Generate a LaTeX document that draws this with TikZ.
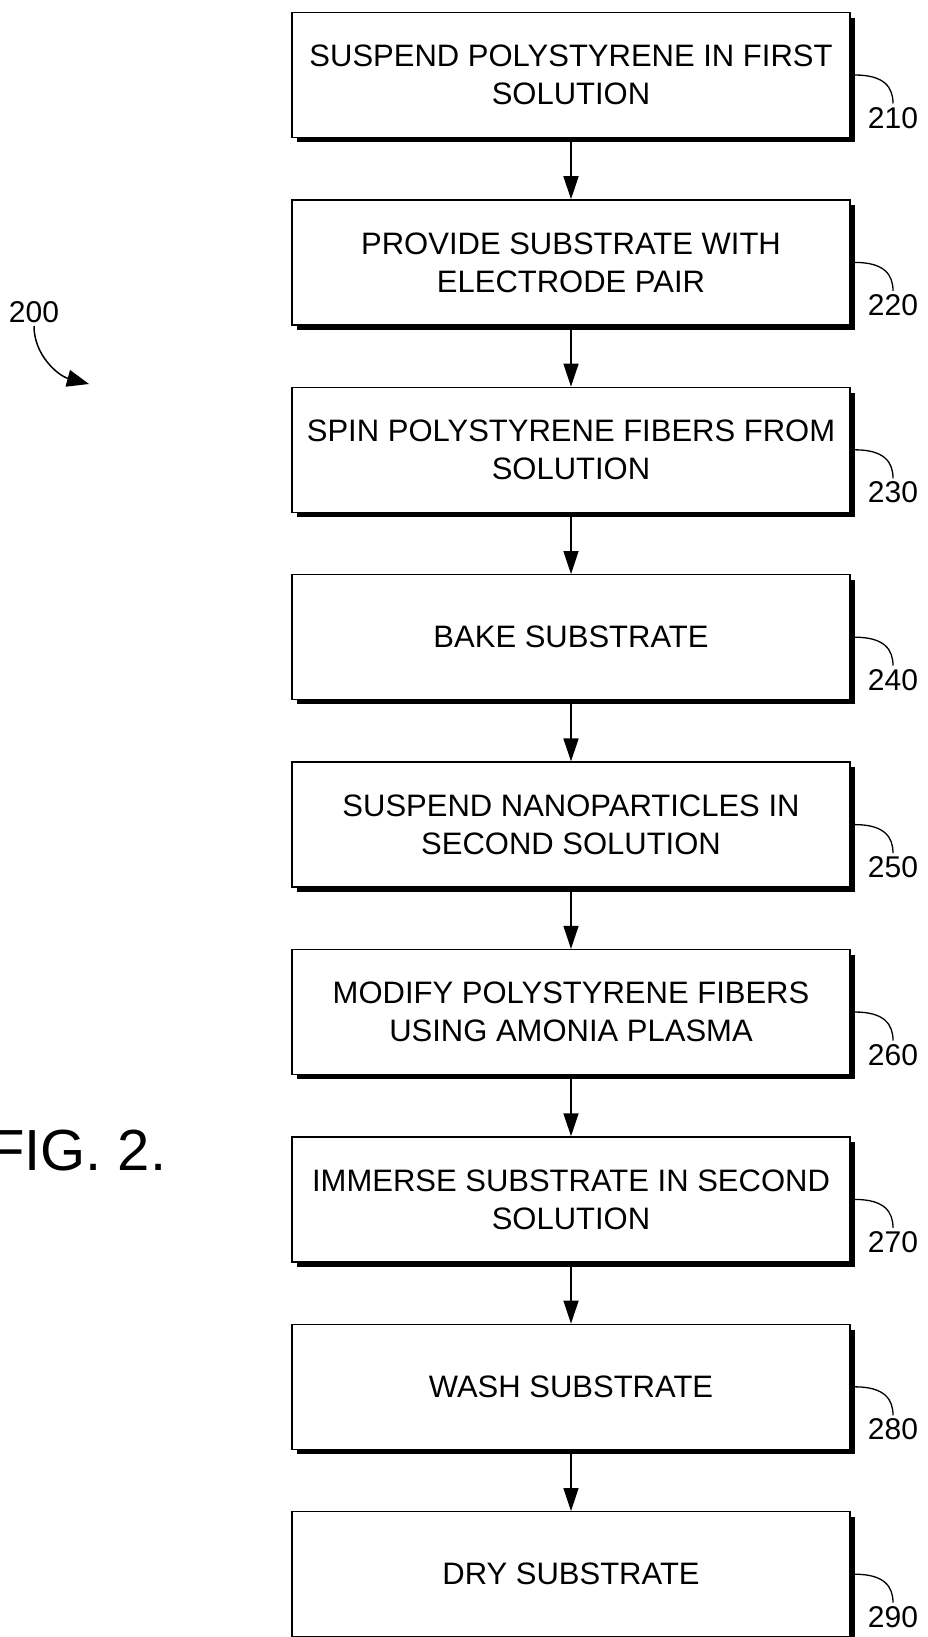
\documentclass[tikz,border=0pt]{standalone}
\usepackage{fontspec}
\setmainfont{Liberation Sans}
\usetikzlibrary{arrows.meta}
\tikzset{
  stepbox/.style = {draw, line width=1.3pt, minimum width=558pt, minimum height=125pt,
                    inner sep=0pt, align=center, font=\fontsize{31}{38}\selectfont},
  reflabel/.style = {inner sep=3.5pt, font=\fontsize{30}{38}\selectfont},
  flowarrow/.style = {line width=1.5pt, -{Triangle[length=23pt,width=15pt]}},
  leader/.style = {line width=1.3pt},
  boxshadow/.style = {line width=4pt}
}
\begin{document}
\begin{tikzpicture}[x=1pt,y=-1pt]
\useasboundingbox (0,0) rectangle (927,1637);
% Process steps
%-----------------------------------------------------------%
\foreach \n/\txt [count=\i from 0] in {
    210/{SUSPEND POLYSTYRENE IN FIRST\\SOLUTION},
    220/{PROVIDE SUBSTRATE WITH\\ELECTRODE PAIR},
    230/{SPIN POLYSTYRENE FIBERS FROM\\SOLUTION},
    240/{BAKE SUBSTRATE},
    250/{SUSPEND NANOPARTICLES IN\\SECOND SOLUTION},
    260/{MODIFY POLYSTYRENE FIBERS\\USING AMONIA PLASMA},
    270/{IMMERSE SUBSTRATE IN SECOND\\SOLUTION},
    280/{WASH SUBSTRATE},
    290/{DRY SUBSTRATE}}
  { \node[stepbox] (s\n) at (571, {75+187.4*\i}) {\txt};
% shadow on right and bottom edge
    \draw[boxshadow] ([shift={(2,6)}]s\n.north east) -- ([shift={(2,2)}]s\n.south east)
                     -- ([shift={(6,2)}]s\n.south west);
% reference numeral and its leader
    \node[reflabel, anchor=north] (t\n) at (893, {103.5+187.4*\i}) {\n};
    \draw[leader] ([xshift=4pt]s\n.east) .. controls +(30,0) and +(0,-16) .. (t\n.north);}
% arrows between steps
\foreach \a/\b in {210/220,220/230,230/240,240/250,250/260,260/270,270/280,280/290}
  { \draw[flowarrow] (s\a.south) -- (s\b.north);}
%-----------------------------------------------------------%
% figure numeral 200
\node[reflabel, anchor=base] (l200) at (34,322) {200};
\coordinate (a200) at (89,384);
\draw[leader, line width=1.5pt, -{Triangle[length=22pt,width=17pt]}] (l200.south)
    .. controls +(0,30) and +(-30,-8) .. (a200);
% figure title
\node[inner sep=0pt, anchor=base east, font=\fontsize{58}{64}\selectfont] (fig) at (166.5,1170) {FIG. 2.};

\end{tikzpicture}
\end{document}
